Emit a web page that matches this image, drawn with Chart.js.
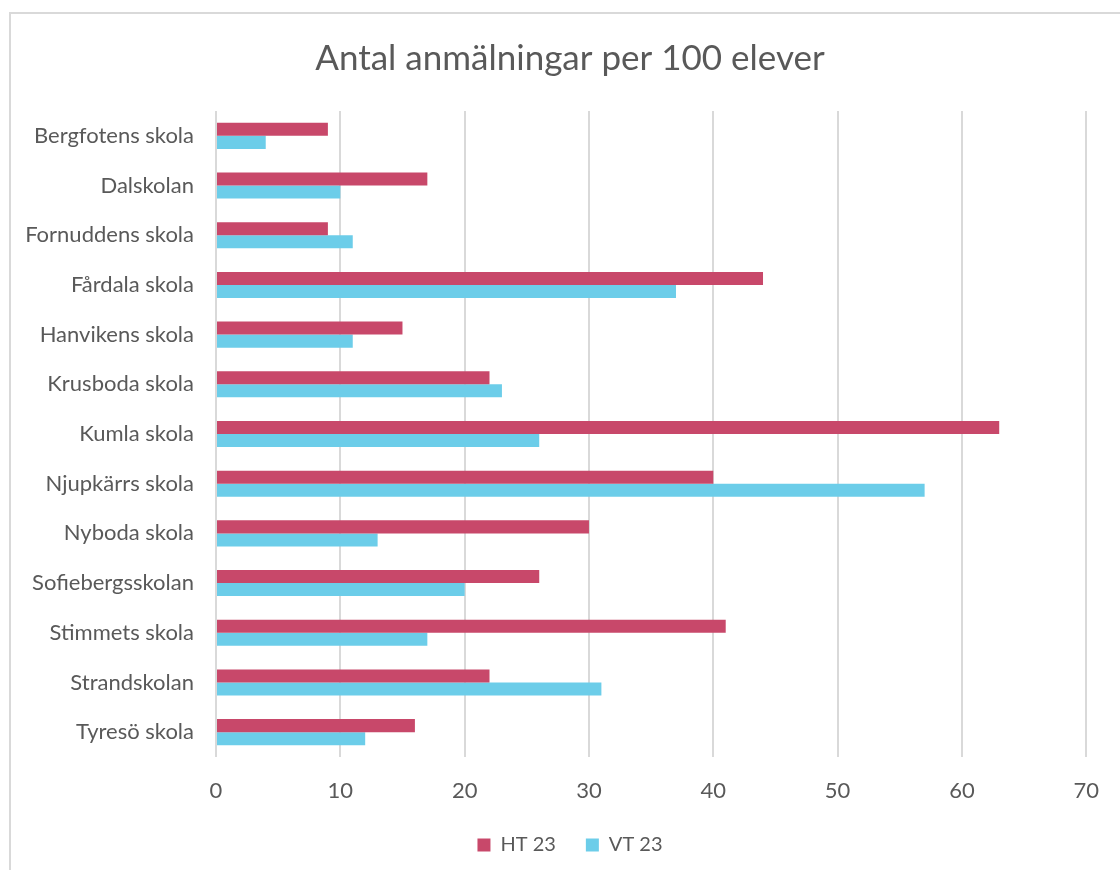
<!DOCTYPE html>
<html>
<head>
<meta charset="utf-8">
<script src="https://cdn.jsdelivr.net/npm/chart.js@4.4.1/dist/chart.umd.min.js"></script>
<style>
  html, body { margin: 0; padding: 0; background: #fff; overflow: hidden; }
  #frame {
    position: absolute; left: 9px; top: 12px; width: 1200px; height: 900px;
    border-left: 2px solid #d9d9d9; border-top: 2px solid #d9d9d9;
  }
  #wrap { position: absolute; left: 0; top: 0; width: 1120px; height: 870px; }
</style>
</head>
<body>
<div id="frame"></div>
<div id="wrap"><canvas id="chart"></canvas></div>
<script>
// ── Data ──────────────────────────────────────────────────────────────────
const schools = [
    'Bergfotens skola', 'Dalskolan', 'Fornuddens skola', 'Fårdala skola',
    'Hanvikens skola', 'Krusboda skola', 'Kumla skola', 'Njupkärrs skola',
    'Nyboda skola', 'Sofiebergsskolan', 'Stimmets skola', 'Strandskolan',
    'Tyresö skola'
];
const ht23 = [9, 17, 9, 44, 15, 22, 63, 40, 30, 26, 41, 22, 16];
const vt23 = [4, 10, 11, 37, 11, 23, 26, 57, 13, 20, 17, 31, 12];
const xTicks = [0, 10, 20, 30, 40, 50, 60, 70];

const FONT = 'Lato, "Open Sans", sans-serif';
const TEXT = '#595959';

// ── Chart ─────────────────────────────────────────────────────────────────
const ctx = document.getElementById('chart').getContext('2d');
new Chart(ctx, {
    type: 'bar',
    data: {
        labels: schools,
        datasets: [
            { label: 'HT 23', data: ht23, backgroundColor: '#c8486a' },
            { label: 'VT 23', data: vt23, backgroundColor: '#6ccde9' }
        ]
    },
    options: {
        indexAxis: 'y',
        responsive: true,
        maintainAspectRatio: false,
        animation: false,
        datasets: { bar: { categoryPercentage: 0.525, barPercentage: 1.0 } },
        // left offset so title + legend centre at ~570 like the original
        layout: { padding: { left: 20, right: 0, top: 18, bottom: 5 } },
        plugins: {
            title: {
                display: true,
                text: 'Antal anmälningar per 100 elever',
                color: TEXT,
                font: { family: FONT, size: 35, weight: 'normal' },
                padding: { top: 20, bottom: 31 }
            },
            legend: {
                position: 'bottom',
                labels: {
                    color: TEXT,
                    font: { family: FONT, size: 20 },
                    boxWidth: 13,
                    boxHeight: 13,
                    padding: 30
                }
            },
            tooltip: { enabled: false }
        },
        scales: {
            x: {
                min: 0,
                max: 70,
                afterBuildTicks: s => { s.ticks = xTicks.map(v => ({ value: v })); },
                grid: { color: '#d9d9d9', lineWidth: 2, drawTicks: false },
                border: { display: false },
                ticks: { color: TEXT, font: { family: FONT, size: 22 }, padding: 21 },
                afterFit: s => { s.height = 48; }
            },
            y: {
                grid: { display: false },
                border: { display: false },
                ticks: { color: TEXT, font: { family: FONT, size: 22 }, padding: 14 },
                afterFit: s => { s.width = 196; }
            },
            // empty spacer on the right, keeps the plot ending at ~1089px
            yPad: {
                type: 'category',
                position: 'right',
                grid: { display: false },
                border: { display: false },
                ticks: { display: false },
                afterFit: s => { s.width = 28; }
            }
        }
    }
});
</script>
</body>
</html>
